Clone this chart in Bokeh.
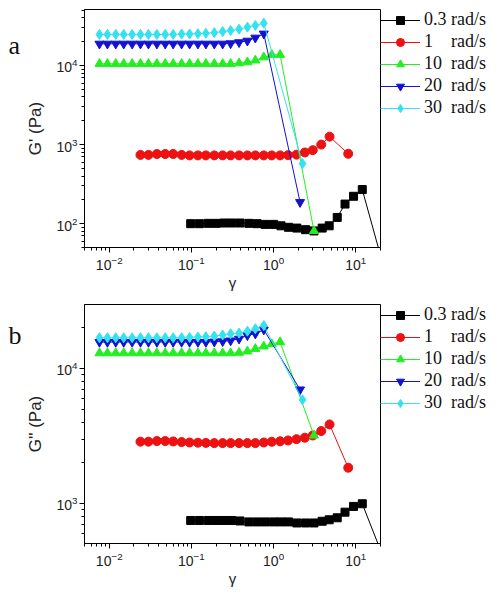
from bokeh.plotting import figure
from bokeh.models import Range1d, Legend, LegendItem, FixedTicker
from bokeh.layouts import column, row
from bokeh.embed import file_html
from bokeh.resources import INLINE
from bokeh.core.properties import value

# ---------------- data ----------------
panel_letters = ["a", "b"]
series_labels = ["0.3 rad/s", "1\u2007\u2008 rad/s", "10\u2008 rad/s", "20\u2008 rad/s", "30\u2008 rad/s"]
series_colors = ["#000000", "#EE1111", "#22EE22", "#1212D2", "#33E2F0"]
series_markers = ["square", "circle", "triangle", "inverted_triangle", "diamond"]

strain_03 = [0.098, 0.125, 0.16, 0.20, 0.25, 0.31, 0.39, 0.50, 0.63, 0.79, 1.0, 1.23,
             1.52, 1.92, 2.45, 3.1, 3.9, 4.75, 5.95, 7.4, 9.4, 12.0, 24.0]
strain_1 = [0.024, 0.030, 0.038, 0.048, 0.060, 0.076, 0.095, 0.12, 0.15, 0.19, 0.24, 0.30,
            0.38, 0.48, 0.60, 0.76, 0.95, 1.2, 1.5, 1.9, 2.4, 3.0, 3.8, 4.8, 8.1]
strain_10 = [0.0076, 0.0095, 0.012, 0.015, 0.019, 0.024, 0.030, 0.038, 0.048, 0.060, 0.076,
             0.095, 0.12, 0.15, 0.19, 0.24, 0.30, 0.38, 0.48, 0.60, 0.76, 0.95, 1.2, 3.1]
strain_20 = [0.0076, 0.0095, 0.012, 0.015, 0.019, 0.024, 0.030, 0.038, 0.048, 0.060, 0.076,
             0.095, 0.12, 0.15, 0.19, 0.24, 0.30, 0.38, 0.48, 0.60, 0.76, 2.1]
strain_30 = [0.0076, 0.0095, 0.012, 0.015, 0.019, 0.024, 0.030, 0.038, 0.048, 0.060, 0.076,
             0.095, 0.12, 0.15, 0.19, 0.24, 0.30, 0.38, 0.48, 0.60, 0.76, 2.25]

# G' (Pa)
gp_03 = [100, 100, 101, 101, 102, 102, 102, 101, 100, 98, 98, 94, 90, 88, 84, 81, 88, 94,
         120, 177, 222, 270, 20]
gp_1 = [740, 740, 760, 760, 760, 740, 730, 730, 730, 730, 730, 730, 730, 730, 730, 730, 730,
        730, 735, 746, 795, 850, 1000, 1260, 765]
gp_10 = [10500, 10500, 10500, 10500, 10500, 10500, 10500, 10500, 10500, 10500, 10500, 10500,
         10500, 10500, 10500, 10500, 10500, 10700, 11000, 11600, 12700, 13650, 13650, 81]
gp_20 = [18800, 18800, 18800, 18800, 18800, 18800, 18800, 18800, 18800, 18800, 18800, 18800,
         18800, 18800, 18800, 18800, 19000, 19600, 20500, 22400, 25200, 187]
gp_30 = [24700, 24700, 24700, 24700, 24700, 24700, 24700, 24700, 24700, 24700, 25000, 25000,
         25200, 25500, 26000, 26800, 27700, 28800, 30500, 32000, 34300, 575]

# G'' (Pa)
gpp_03 = [748, 748, 748, 748, 748, 748, 742, 730, 730, 730, 730, 730, 730, 717, 717, 717, 738,
          757, 783, 862, 951, 995, 340]
gpp_1 = [2870, 2870, 2900, 2900, 2880, 2850, 2830, 2820, 2810, 2800, 2800, 2800, 2800, 2800,
         2800, 2830, 2865, 2890, 2930, 2995, 3070, 3190, 3440, 3850, 1840]
gpp_10 = [13000, 13000, 13000, 13000, 13000, 13000, 13000, 13000, 13000, 13000, 13000, 13000,
          13000, 13000, 13000, 13000, 13000, 13100, 13400, 14000, 14600, 15200, 15700, 3190]
gpp_20 = [15700, 15700, 15700, 15700, 15700, 15700, 15700, 15700, 15700, 15700, 15700, 15700,
          15700, 15700, 15800, 15900, 16100, 16600, 17600, 18100, 19400, 6980]
gpp_30 = [16900, 16900, 16900, 16900, 16900, 16900, 16900, 16900, 16900, 16900, 16900, 17000,
          17100, 17200, 17400, 17700, 18100, 18300, 18900, 19700, 20800, 5860]

x_range_vals = (0.005, 20)
gp_range = (50, 51000)
gpp_range = (505, 29800)
gpp_major_ticks = [1000, 10000]
gpp_minor_ticks = [600, 700, 800, 900, 2000, 3000, 4000, 5000, 6000, 7000, 8000, 9000, 20000]

strains = [strain_03, strain_1, strain_10, strain_20, strain_30]
marker_sizes = [8, 9, 9, 9, 10]

LETTER_W = 22
PANEL_H = 296


def letter_strip(letter, baseline_from_top):
    f = figure(width=LETTER_W, height=PANEL_H, x_range=Range1d(0, LETTER_W),
               y_range=Range1d(0, PANEL_H), min_border=0,
               output_backend="svg", toolbar_location=None)
    f.axis.visible = False
    f.grid.visible = False
    f.outline_line_color = None
    f.text(x=[8], y=[PANEL_H - baseline_from_top], text=[letter],
           text_font=value("Liberation Serif"), text_font_size="26px",
           text_color="#111111", text_baseline="alphabetic", text_align="left")
    return f


def make_panel(ys, yrange, ylabel, frame_h, top_border):
    p = figure(x_axis_type="log", y_axis_type="log",
               x_range=Range1d(*x_range_vals), y_range=Range1d(*yrange),
               frame_width=296, frame_height=frame_h,
               min_border_left=84 - LETTER_W, min_border_right=0,
               min_border_top=top_border,
               min_border_bottom=PANEL_H - frame_h - top_border,
               output_backend="svg", toolbar_location=None)
    p.grid.visible = False
    p.outline_line_color = "black"
    p.outline_line_alpha = 1.0
    p.outline_line_width = 1
    p.background_fill_color = "white"
    p.border_fill_color = "white"

    for ax in p.axis:
        ax.axis_line_color = "black"
        ax.major_tick_line_color = "black"
        ax.minor_tick_line_color = "black"
        ax.major_tick_in = 0
        ax.major_tick_out = 5
        ax.minor_tick_in = 0
        ax.minor_tick_out = 3
        ax.major_label_text_font = "Liberation Sans"
        ax.major_label_text_font_size = "14px"
        ax.major_label_text_color = "#222222"
        ax.axis_label_text_font = "Liberation Sans"
        ax.axis_label_text_font_style = "normal"
        ax.axis_label_text_color = "#222222"
    p.xaxis.axis_label = "\u03b3"
    p.xaxis.axis_label_text_font_size = "15px"
    p.xaxis.major_label_standoff = 3
    p.xaxis.axis_label_standoff = 1
    p.yaxis.axis_label = ylabel
    p.yaxis.axis_label_text_font_size = "17px"
    p.yaxis.major_label_standoff = 2
    p.yaxis.axis_label_standoff = 8

    items = []
    for xs, yv, lab, col, mk, ms in zip(strains, ys, series_labels, series_colors,
                                        series_markers, marker_sizes):
        lr = p.line(xs, yv, line_color=col, line_width=1)
        sr = p.scatter(xs, yv, marker=mk, size=ms, fill_color=col, line_color=col)
        items.append(LegendItem(label=lab, renderers=[lr, sr]))

    legend = Legend(items=items, location="top_left", margin=0, padding=2,
                    glyph_width=40, glyph_height=20, label_height=20, spacing=1,
                    label_standoff=4, border_line_color=None,
                    background_fill_alpha=0,
                    label_text_font="Liberation Serif", label_text_font_size="18px",
                    label_text_color="#111111")
    p.add_layout(legend, "right")
    return p


p1 = make_panel([gp_03, gp_1, gp_10, gp_20, gp_30], gp_range, "G' (Pa)", 238, 9)
p2 = make_panel([gpp_03, gpp_1, gpp_10, gpp_20, gpp_30], gpp_range, "G'' (Pa)", 239, 8)
p2.yaxis.ticker = FixedTicker(ticks=gpp_major_ticks, minor_ticks=gpp_minor_ticks)

la = letter_strip(panel_letters[0], 45)
lb = letter_strip(panel_letters[1], 39)

layout = column(row(la, p1, spacing=0), row(lb, p2, spacing=0), spacing=0)
open("out.html", "w").write(file_html(layout, INLINE))
